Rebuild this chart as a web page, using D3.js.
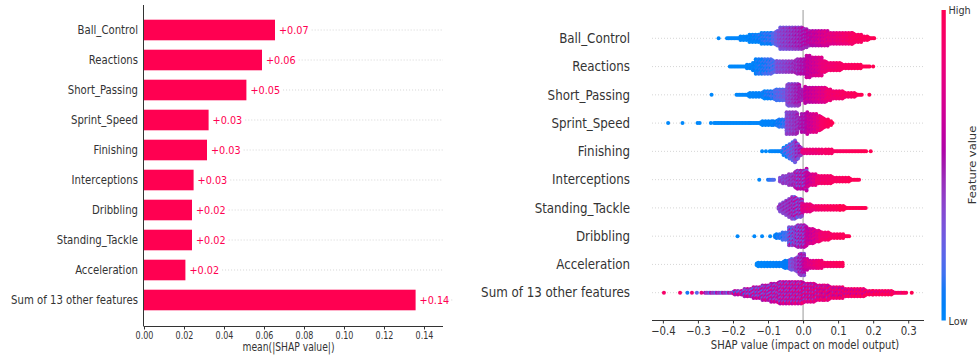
<!DOCTYPE html>
<html lang="en">
<head>
  <meta charset="UTF-8">
  <title>SHAP summary</title>
  <script src="https://d3js.org/d3.v7.min.js"></script>
  <style type="text/css">
    body { margin: 0; background: white; }
    text { font-family: "DejaVu Sans", sans-serif; }
  </style>
</head>
<body>
  <div id="chart">
    <svg width="979" height="360"></svg>
  </div>
  <script type="text/javascript">
    // ---- data ----
    let features = ["Ball_Control", "Reactions", "Short_Passing", "Sprint_Speed", "Finishing",
      "Interceptions", "Dribbling", "Standing_Tackle", "Acceleration", "Sum of 13 other features"];
    let meanAbs = [0.0655, 0.059, 0.0512, 0.0323, 0.0315, 0.0248, 0.0240, 0.0240, 0.0207, 0.1358];
    let meanLabels = ["+0.07", "+0.06", "+0.05", "+0.03", "+0.03", "+0.03", "+0.02", "+0.02", "+0.02", "+0.14"];
    let barTicks = [0, 0.02, 0.04, 0.06, 0.08, 0.10, 0.12, 0.14];

    let swarmFeatures = ["Ball_Control", "Reactions", "Short_Passing", "Sprint_Speed", "Finishing",
      "Interceptions", "Standing_Tackle", "Dribbling", "Acceleration", "Sum of 13 other features"];
    let shapTicks = [-0.4, -0.3, -0.2, -0.1, 0.0, 0.1, 0.2, 0.3];

    // swarm segments: [shapFrom, shapTo, halfSpreadFrom, halfSpreadTo, featValFrom, featValTo, mix]
    let swBallControl = [
      [-0.241, -0.241, 0, 0, 0, 0, 0],
      [-0.217, -0.17, 1, 2, 0, 0.02, 0],
      [-0.17, -0.14, 2, 5, 0.02, 0.05, 0.05],
      [-0.14, -0.09, 5, 6, 0.05, 0.15, 0.08],
      [-0.09, -0.065, 6, 9, 0.15, 0.35, 0.08],
      [-0.065, 0.0, 11, 12, 0.35, 0.5, 0.1],
      [0.0, 0.01, 11, 10, 0.5, 0.55, 0.1],
      [0.01, 0.07, 9, 8, 0.55, 0.75, 0.1],
      [0.07, 0.14, 7, 6, 0.75, 0.92, 0.08],
      [0.14, 0.2, 6, 1, 0.92, 1, 0.05],
      [0.203, 0.203, 0, 0, 1, 1, 0]
    ];
    let swReactions = [
      [-0.209, -0.16, 1, 1, 0, 0, 0],
      [-0.16, -0.135, 2, 5, 0, 0.05, 0.05],
      [-0.135, -0.075, 8, 7, 0.05, 0.2, 0.08],
      [-0.075, -0.02, 6, 7, 0.3, 0.45, 0.08],
      [-0.02, 0.01, 8, 8, 0.45, 0.55, 0.08],
      [0.01, 0.053, 11, 10, 0.6, 0.75, 0.08],
      [0.053, 0.1, 6, 4, 0.8, 0.9, 0.05],
      [0.1, 0.19, 4, 1, 0.9, 1, 0],
      [0.2, 0.2, 0, 0, 1, 1, 0]
    ];
    let swShortPassing = [
      [-0.261, -0.261, 0, 0, 0, 0, 0],
      [-0.19, -0.114, 1, 3, 0, 0.05, 0],
      [-0.114, -0.045, 4, 7, 0.05, 0.3, 0.08],
      [-0.045, -0.009, 11, 12, 0.35, 0.5, 0.08],
      [-0.009, 0.006, 6, 4, 0.5, 0.5, 0.05],
      [0.006, 0.069, 9, 8, 0.6, 0.8, 0.08],
      [0.069, 0.17, 6, 1, 0.85, 1, 0.05],
      [0.189, 0.189, 0, 0, 1, 1, 0]
    ];
    let swSprintSpeed = [
      [-0.385, -0.385, 0, 0, 0, 0, 0],
      [-0.344, -0.344, 0, 0, 0, 0, 0],
      [-0.301, -0.301, 0, 0, 0, 0, 0],
      [-0.295, -0.295, 0, 0, 0, 0, 0],
      [-0.263, -0.263, 0, 0, 0, 0, 0],
      [-0.254, -0.15, 1, 1, 0, 0, 0],
      [-0.15, -0.085, 1, 3, 0, 0.05, 0],
      [-0.085, -0.047, 3, 5, 0.05, 0.15, 0.05],
      [-0.047, -0.014, 12, 11, 0.35, 0.45, 0.08],
      [-0.014, -0.004, 7, 7, 0.45, 0.5, 0.08],
      [-0.004, 0.012, 10, 9, 0.5, 0.55, 0.08],
      [0.012, 0.054, 11, 8, 0.6, 0.85, 0.08],
      [0.054, 0.085, 7, 1, 0.9, 1, 0]
    ];
    let swFinishing = [
      [-0.117, -0.117, 0, 0, 0, 0, 0],
      [-0.106, -0.106, 0, 0, 0, 0, 0],
      [-0.095, -0.06, 1, 1, 0, 0.05, 0],
      [-0.06, -0.023, 3, 11, 0.1, 0.35, 0.15],
      [-0.023, -0.002, 11, 4, 0.35, 0.55, 0.15],
      [-0.002, 0.06, 3, 2, 0.8, 0.9, 0.05],
      [0.06, 0.182, 2, 1, 0.9, 1, 0],
      [0.193, 0.193, 0, 0, 1, 1, 0]
    ];
    let swInterceptions = [
      [-0.125, -0.125, 0, 0, 0, 0, 0],
      [-0.1, -0.08, 1, 1, 0.1, 0.2, 0],
      [-0.066, -0.02, 3, 8, 0.35, 0.45, 0.08],
      [-0.02, 0.01, 9, 11, 0.45, 0.5, 0.25],
      [0.01, 0.04, 8, 5, 0.6, 0.8, 0.1],
      [0.04, 0.163, 5, 1, 0.85, 1, 0.05]
    ];
    let swStandingTackle = [
      [-0.07, -0.029, 3, 12, 0.4, 0.45, 0.1],
      [-0.029, -0.002, 12, 9, 0.45, 0.45, 0.25],
      [-0.002, 0.04, 5, 3, 0.75, 0.9, 0.08],
      [0.04, 0.106, 3, 2, 0.9, 1, 0.05],
      [0.106, 0.182, 2, 1, 1, 1, 0]
    ];
    let swDribbling = [
      [-0.187, -0.187, 0, 0, 0, 0, 0],
      [-0.139, -0.139, 0, 0, 0, 0, 0],
      [-0.117, -0.117, 0, 0, 0, 0, 0],
      [-0.094, -0.094, 0, 0, 0, 0, 0],
      [-0.08, -0.04, 2, 5, 0.05, 0.2, 0.05],
      [-0.04, 0.01, 10, 12, 0.3, 0.5, 0.22],
      [0.01, 0.05, 9, 6, 0.6, 0.8, 0.1],
      [0.05, 0.134, 5, 1, 0.85, 1, 0.05]
    ];
    let swAcceleration = [
      [-0.132, -0.037, 2, 4, 0, 0.1, 0],
      [-0.037, -0.01, 6, 8, 0.3, 0.45, 0.1],
      [-0.01, 0.003, 12, 12, 0.45, 0.5, 0.15],
      [0.003, 0.04, 6, 4, 0.65, 0.85, 0.08],
      [0.04, 0.117, 4, 2, 0.85, 1, 0.05]
    ];
    let swOther = [
      [-0.397, -0.397, 0, 0, 0.9, 0.9, 0],
      [-0.351, -0.351, 0, 0, 0.9, 0.9, 0],
      [-0.33, -0.33, 0, 0, 0.1, 0.1, 0],
      [-0.317, -0.317, 0, 0, 0.85, 0.85, 0],
      [-0.303, -0.303, 0, 0, 0.2, 0.2, 0],
      [-0.29, -0.29, 0, 0, 0.8, 0.8, 0],
      [-0.28, -0.18, 1, 2, 0.4, 0.45, 0.4],
      [-0.18, -0.104, 3, 8, 0.45, 0.5, 0.35],
      [-0.104, -0.057, 8, 12, 0.5, 0.55, 0.3],
      [-0.057, 0, 12, 11, 0.55, 0.6, 0.3],
      [0, 0.057, 11, 8, 0.6, 0.7, 0.3],
      [0.057, 0.125, 8, 5, 0.7, 0.8, 0.28],
      [0.125, 0.2, 5, 3, 0.8, 0.88, 0.25],
      [0.2, 0.296, 3, 1, 0.88, 0.92, 0.2],
      [0.31, 0.31, 0, 0, 1, 1, 0]
    ];
    let swarmSegments = [swBallControl, swReactions, swShortPassing, swSprintSpeed, swFinishing,
      swInterceptions, swStandingTackle, swDribbling, swAcceleration, swOther];

    // ---- setup ----
    const SX = 0.88;   // picture is squeezed horizontally
    const BAR = "#ff0051", INK = "#333";
    // ordered-dither matrix used to mix colours inside a swarm
    const DITHER = [[0, 8, 2, 10], [12, 4, 14, 6], [3, 11, 1, 9], [15, 7, 13, 5]];
    let svg = d3.select("div#chart svg");

    function shapColor(t) {
      t = Math.max(0, Math.min(1, t));
      let l = t < 0.5 ? 54 - 14 * (t / 0.5) : 40 + 14 * ((t - 0.5) / 0.5);
      let c = 70 + 20 * t;
      let h = (4.6588 + t * (0.35470565 + 2 * Math.PI - 4.6588)) * 180 / Math.PI;
      return d3.hcl(h, c, l).formatHex();
    }

    function label(g, x, y, txt, size, anchor, color, sx) {
      return g.append("text")
        .attr("transform", "translate(" + x + "," + y + ") scale(" + (sx || SX) + ",1)")
        .attr("text-anchor", anchor)
        .attr("dy", "0.35em")
        .style("font-size", size + "px")
        .attr("fill", color)
        .text(txt);
    }

    // ================= left: bar chart =================
    let xL = d3.scaleLinear().domain([0, 0.1495]).range([144, 443]);
    let yL = d3.scalePoint().domain(features).range([30, 300]);
    let left = svg.append("g");

    let guides = left.append("g");

    left.selectAll("rect.bar")
      .data(features)
      .enter()
      .append("rect")
      .attr("class", "bar")
      .attr("x", xL(0))
      .attr("y", f => yL(f) - 10.3)
      .attr("width", (f, i) => xL(meanAbs[i]) - xL(0))
      .attr("height", 20.6)
      .attr("fill", BAR);

    features.forEach(function (f, i) {
      label(left, 138, yL(f), f, 11.5, "end", INK);
      let t = label(left, xL(meanAbs[i]) + 4, yL(f), meanLabels[i], 11, "start", BAR);
      let w = t.node().getComputedTextLength() * SX;
      guides.append("line")
        .attr("x1", xL(meanAbs[i]) + 4 + w + 3)
        .attr("x2", 443)
        .attr("y1", yL(f))
        .attr("y2", yL(f))
        .attr("stroke", "#cccccc")
        .attr("stroke-width", 0.8)
        .attr("stroke-dasharray", "1,2");
    });

    // axes
    left.append("line")
      .attr("x1", 143.5).attr("x2", 143.5)
      .attr("y1", 5).attr("y2", 326)
      .attr("stroke", INK).attr("stroke-width", 1);
    let axL = left.append("g")
      .attr("transform", "translate(0,326)")
      .call(d3.axisBottom(xL).tickValues(barTicks).tickFormat(d3.format(".2f")).tickSize(3.5).tickSizeOuter(0));
    axL.select(".domain").attr("stroke", INK).attr("d", "M143.5,0.5H443");
    axL.selectAll(".tick line").attr("stroke", INK);
    axL.selectAll(".tick text")
      .attr("transform", "scale(0.8,1)")
      .attr("y", 6)
      .style("font-size", "10px")
      .attr("fill", INK)
      .style("font-family", "DejaVu Sans");
    label(left, 288.5, 347, "mean(|SHAP value|)", 11.5, "middle", INK, 0.8);

    // ================= right: beeswarm =================
    let xR = d3.scaleLinear().domain([-0.431, 0.345]).range([652, 924]);
    let yR = d3.scalePoint().domain(swarmFeatures).range([38.3, 292.7]);
    let right = svg.append("g");

    swarmFeatures.forEach(function (f) {
      right.append("line")
        .attr("x1", 652).attr("x2", 923)
        .attr("y1", yR(f)).attr("y2", yR(f))
        .attr("stroke", "#cccccc")
        .attr("stroke-width", 0.8)
        .attr("stroke-dasharray", "1,2");
      label(right, 630, yR(f), f, 13.5, "end", INK);
    });

    right.append("line")
      .attr("x1", xR(0)).attr("x2", xR(0))
      .attr("y1", 10).attr("y2", 320)
      .attr("stroke", "#999").attr("stroke-width", 1);

    // lay the density segments out as dots
    let dots = [];
    swarmSegments.forEach(function (segs, fi) {
      segs.forEach(function (s) {
        let p0 = xR(s[0]), p1 = xR(s[1]);
        let cols = [];
        if (p1 - p0 < 1) cols.push(p0);
        else for (let px = p0; px <= p1 + 0.01; px += 1.5) cols.push(px);
        cols.forEach(function (px) {
          let u = p1 - p0 < 1 ? 0 : (px - p0) / (p1 - p0);
          let h = s[2] + (s[3] - s[2]) * u;
          let n = Math.floor(h / 1.8);
          let cj = Math.round(px / 1.5);
          let offs = [];
          if (n > 0 && cj % 2) for (let k = -n; k < n; k++) offs.push((k + 0.5) * 1.8);
          else for (let k = -n; k <= n; k++) offs.push(k * 1.8);
          offs.forEach(function (dy, ri) {
            let pat = DITHER[cj % 4][(ri + fi) % 4] / 15 * 2 - 1;
            dots.push({
              v: xR.invert(px),
              f: swarmFeatures[fi],
              dy: dy,
              t: s[4] + (s[5] - s[4]) * u + s[6] * pat
            });
          });
        });
      });
    });

    right.append("g")
      .selectAll("circle")
      .data(dots)
      .enter()
      .append("circle")
      .attr("cx", d => xR(d.v))
      .attr("cy", d => yR(d.f) + d.dy)
      .attr("r", 2)
      .attr("fill", d => shapColor(d.t));

    let axR = right.append("g")
      .attr("transform", "translate(0,320)")
      .call(d3.axisBottom(xR).tickValues(shapTicks).tickFormat(d3.format(".1f")).tickSize(3.5).tickSizeOuter(0));
    axR.select(".domain").attr("stroke", INK).attr("d", "M652,0.5H924");
    axR.selectAll(".tick line").attr("stroke", INK);
    axR.selectAll(".tick text")
      .attr("transform", "scale(0.85,1)")
      .attr("y", 6)
      .style("font-size", "12px")
      .attr("fill", INK)
      .style("font-family", "DejaVu Sans");
    label(right, 805, 345, "SHAP value (impact on model output)", 12.5, "middle", INK, 0.8);

    // colour bar
    let grad = svg.append("defs").append("linearGradient")
      .attr("id", "cbar")
      .attr("x1", 0).attr("y1", 1).attr("x2", 0).attr("y2", 0);
    d3.range(0, 1.0001, 0.05).forEach(function (t) {
      grad.append("stop").attr("offset", t).attr("stop-color", shapColor(t));
    });
    right.append("rect")
      .attr("x", 941.5).attr("y", 10)
      .attr("width", 4.3).attr("height", 310.5)
      .attr("fill", "url(#cbar)");
    label(right, 948.5, 10, "High", 11, "start", INK);
    label(right, 948.5, 321.5, "Low", 11, "start", INK);
    right.append("text")
      .attr("transform", "translate(975.5,165) rotate(-90) scale(1,0.85)")
      .attr("text-anchor", "middle")
      .style("font-size", "11.5px")
      .attr("fill", INK)
      .text("Feature value");
  </script>
</body>
</html>
